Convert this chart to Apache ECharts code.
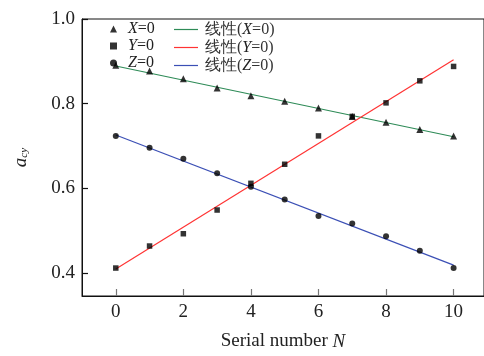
<!DOCTYPE html>
<html><head><meta charset="utf-8">
<script src="https://cdn.jsdelivr.net/npm/echarts@6/dist/echarts.min.js"></script>
<style>html,body{margin:0;padding:0;background:#fff}#c{width:484px;height:356px}</style>
</head><body><div id="c"></div>
<script>
const N = [0,1,2,3,4,5,6,7,8,9,10];
const X0 = [0.891,0.877,0.859,0.837,0.819,0.806,0.790,0.770,0.756,0.739,0.724];
const Y0 = [0.412,0.464,0.493,0.549,0.612,0.657,0.724,0.770,0.802,0.854,0.888];
const Z0 = [0.724,0.696,0.670,0.636,0.604,0.574,0.535,0.517,0.487,0.453,0.412];
const fitN = [0,10];
const fitX = [0.889,0.722];
const fitY = [0.410,0.904];
const fitZ = [0.726,0.419];
const xTicks = [0,2,4,6,8,10];
const yTicks = [0.4,0.6,0.8,1.0];

const serif = 'Liberation Serif';
const pairs = (xs, ys) => xs.map((x,i)=>[x, ys[i]]);
const rich = {i:{fontStyle:'italic',fontFamily:serif,fontSize:16,color:'#222'}};
const fmt = n => n.replace(/([XYZ])/, '{i|$1}');

const chart = echarts.init(document.getElementById('c'));
chart.setOption({
  animation:false,
  grid:{left:82, top:19, right:0, bottom:57, show:true, borderColor:'#111', borderWidth:1},
  legend:[
    {orient:'vertical', left:105, top:16, itemWidth:7, itemHeight:7, itemGap:1,
     data:['X=0','Y=0','Z=0'], formatter:fmt,
     textStyle:{fontFamily:serif, fontSize:16, color:'#222', padding:[0,0,0,6], rich:rich}},
    {orient:'vertical', left:169, top:16, itemWidth:24, itemHeight:1.2, itemGap:1,
     data:[{name:'线性(X=0)',icon:'rect'},{name:'线性(Y=0)',icon:'rect'},{name:'线性(Z=0)',icon:'rect'}], formatter:fmt,
     textStyle:{fontFamily:serif, fontSize:16, color:'#333', padding:[0,0,0,2], lineHeight:17, rich:rich}}
  ],
  xAxis:{type:'value', min:-1, max:10.9,
    name:'Serial number {i|N}', nameLocation:'middle', nameGap:36,
    nameTextStyle:{fontFamily:serif, fontSize:19, color:'#222', rich:{i:{fontStyle:'italic',fontFamily:serif,fontSize:19,color:'#222'}}},
    axisLine:{show:true, onZero:false, lineStyle:{color:'#111',width:1}},
    axisTick:{show:true, inside:true, length:7, lineStyle:{color:'#777',width:1.2}, customValues:xTicks},
    axisLabel:{show:true, fontFamily:serif, fontSize:19, color:'#222', margin:7, customValues:xTicks},
    splitLine:{show:false}},
  yAxis:{type:'value', min:0.346, max:1.0,
    name:'{a|a}{s|cy}', nameLocation:'middle', nameGap:52,
    nameTextStyle:{rich:{a:{fontStyle:'italic',fontFamily:serif,fontSize:19,color:'#222'},
                         s:{fontStyle:'italic',fontFamily:serif,fontSize:11,color:'#222',padding:[8,0,0,0]}}},
    axisLine:{show:true, onZero:false, lineStyle:{color:'#111',width:1}},
    axisTick:{show:true, inside:true, length:6, lineStyle:{color:'#111',width:1.2}, customValues:yTicks},
    axisLabel:{show:true, fontFamily:serif, fontSize:19, color:'#222', margin:7, customValues:yTicks, formatter:v=>v.toFixed(1)},
    splitLine:{show:false}},
  series:[
    {name:'线性(X=0)', type:'line', symbol:'none', data:pairs(fitN,fitX), lineStyle:{color:'#2e8b57',width:1.2}, itemStyle:{color:'#2e8b57'}, z:2},
    {name:'线性(Y=0)', type:'line', symbol:'none', data:pairs(fitN,fitY), lineStyle:{color:'#ff3333',width:1.2}, itemStyle:{color:'#ff3333'}, z:2},
    {name:'线性(Z=0)', type:'line', symbol:'none', data:pairs(fitN,fitZ), lineStyle:{color:'#3b4fb5',width:1.2}, itemStyle:{color:'#3b4fb5'}, z:2},
    {name:'X=0', type:'scatter', symbol:'triangle', symbolSize:7, data:pairs(N,X0), itemStyle:{color:'#000'}, z:3},
    {name:'Y=0', type:'scatter', symbol:'rect', symbolSize:5.5, data:pairs(N,Y0), itemStyle:{color:'#000'}, z:3},
    {name:'Z=0', type:'scatter', symbol:'circle', symbolSize:6, data:pairs(N,Z0), itemStyle:{color:'#000'}, z:3}
  ]
});
</script></body></html>
